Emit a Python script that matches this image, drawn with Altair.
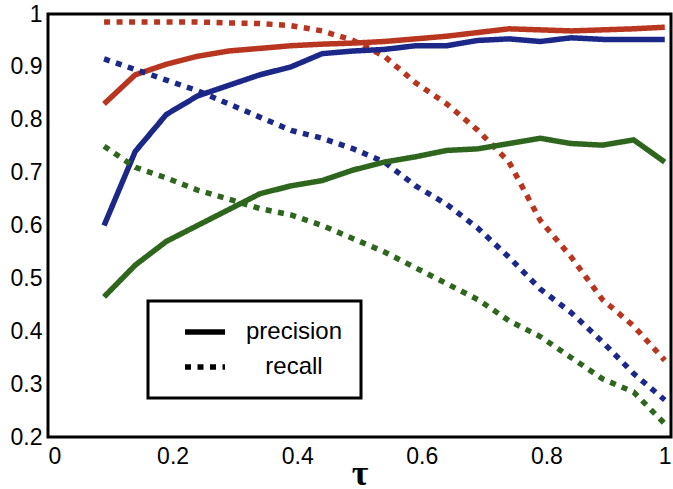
import altair as alt
import pandas as pd

tau = [0.09, 0.14, 0.19, 0.24, 0.29, 0.34, 0.39, 0.44, 0.49, 0.54,
       0.59, 0.64, 0.69, 0.74, 0.79, 0.84, 0.89, 0.94, 0.99]

red_precision = [0.83, 0.885, 0.905, 0.92, 0.93, 0.935, 0.94, 0.943, 0.945, 0.948,
                 0.953, 0.958, 0.965, 0.972, 0.97, 0.968, 0.97, 0.972, 0.975]
blue_precision = [0.60, 0.74, 0.81, 0.845, 0.865, 0.885, 0.90, 0.925, 0.93, 0.933,
                  0.94, 0.94, 0.95, 0.953, 0.948, 0.955, 0.952, 0.952, 0.952]
green_precision = [0.465, 0.525, 0.57, 0.60, 0.63, 0.66, 0.675, 0.685, 0.705, 0.72,
                   0.73, 0.742, 0.745, 0.755, 0.765, 0.755, 0.752, 0.762, 0.72]

red_recall = [0.985, 0.985, 0.985, 0.985, 0.983, 0.982, 0.978, 0.968, 0.95, 0.92,
              0.87, 0.83, 0.78, 0.72, 0.61, 0.54, 0.46, 0.41, 0.345]
blue_recall = [0.915, 0.895, 0.875, 0.855, 0.83, 0.805, 0.78, 0.765, 0.745, 0.72,
               0.675, 0.64, 0.595, 0.54, 0.48, 0.435, 0.38, 0.32, 0.27]
green_recall = [0.75, 0.71, 0.69, 0.667, 0.65, 0.632, 0.62, 0.60, 0.575, 0.55,
                0.52, 0.49, 0.46, 0.42, 0.39, 0.35, 0.31, 0.285, 0.225]

series_names = ["red", "blue", "green"]
series_colors = ["#b8361f", "#1c2888", "#2e661d"]
measures = ["precision", "recall"]

rows = []
for name, prec, rec in [("red", red_precision, red_recall),
                        ("blue", blue_precision, blue_recall),
                        ("green", green_precision, green_recall)]:
    for t, p in zip(tau, prec):
        rows.append({"tau": t, "value": p, "series": name, "measure": "precision"})
    for t, r in zip(tau, rec):
        rows.append({"tau": t, "value": r, "series": name, "measure": "recall"})
df = pd.DataFrame(rows)

chart = alt.Chart(df).mark_line(strokeWidth=5.5, strokeCap="butt").encode(
    x=alt.X("tau:Q", scale=alt.Scale(domain=[0, 1], nice=False),
            axis=alt.Axis(title="τ", values=[0, 0.2, 0.4, 0.6, 0.8, 1], format="~g",
                          grid=False, domain=False, ticks=False,
                          labelFontSize=23, labelPadding=8,
                          titleFont="Liberation Serif", titleFontSize=36,
                          titleFontWeight="bold", titleBaseline="alphabetic",
                          titleY=47)),
    y=alt.Y("value:Q", scale=alt.Scale(domain=[0.2, 1], nice=False),
            axis=alt.Axis(title=None, values=[0.2, 0.3, 0.4, 0.5, 0.6, 0.7, 0.8, 0.9, 1],
                          format="~g", grid=False, domain=False, ticks=False,
                          labelFontSize=23, labelPadding=6)),
    color=alt.Color("series:N", scale=alt.Scale(domain=series_names, range=series_colors),
                    legend=None),
    strokeDash=alt.StrokeDash("measure:N",
                              scale=alt.Scale(domain=measures, range=[[1, 0], [6, 6.5]]),
                              legend=alt.Legend(title=None, orient="none",
                                                legendX=100, legendY=287)),
    detail="measure:N",
).properties(
    width=623, height=423,
    autosize=alt.AutoSizeParams(type="none"),
    padding={"left": 48, "top": 14, "right": 2, "bottom": 52},
).configure_view(
    stroke="black", strokeWidth=3,
).configure_axis(
    labelFont="Liberation Sans", labelColor="black", titleColor="black",
).configure_legend(
    strokeColor="black", strokeWidth=3, padding=18, fillColor="white",
    symbolType="stroke", symbolSize=1600, symbolStrokeWidth=5.5,
    symbolStrokeColor="black", symbolOffset=16, labelOffset=66, labelAlign="center",
    labelFont="Liberation Sans", labelFontSize=24, labelColor="black",
    clipHeight=26, rowPadding=9,
)

chart.save("out.html", embed_options={"renderer": "svg", "actions": False})
